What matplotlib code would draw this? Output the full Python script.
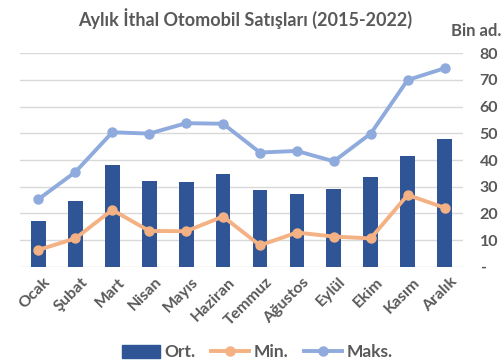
import matplotlib
matplotlib.use("Agg")
import matplotlib.pyplot as plt
import numpy as np
from matplotlib.lines import Line2D
from matplotlib.patches import Patch
from matplotlib.transforms import ScaledTranslation

months = ["Ocak", "Şubat", "Mart", "Nisan", "Mayıs", "Haziran",
          "Temmuz", "Ağustos", "Eylül", "Ekim", "Kasım", "Aralık"]
avg_vals = [17.0, 24.6, 38.1, 32.3, 31.6, 34.9, 28.9, 27.3, 29.0, 33.8, 41.5, 48.0]
min_vals = [6.3, 10.6, 21.3, 13.4, 13.3, 18.8, 8.0, 12.8, 11.3, 10.6, 26.9, 22.1]
max_vals = [25.3, 35.5, 50.4, 49.9, 53.8, 53.6, 42.8, 43.4, 39.5, 49.9, 70.0, 74.4]
y_ticks = [0, 10, 20, 30, 40, 50, 60, 70, 80]
y_labels = ["-", "10", "20", "30", "40", "50", "60", "70", "80"]

BAR = "#2F5597"
MINC = "#F4B183"
MAXC = "#8FAADC"
TXT = "#595959"
GRID = "#D9D9D9"

plt.rcParams["font.family"] = ["Lato", "DejaVu Sans"]
plt.rcParams["font.weight"] = "bold"

fig = plt.figure(figsize=(5.04, 3.62), dpi=100)
ax = fig.add_axes([0.0397, 0.2633, 0.879, 0.5894])

x = np.arange(len(months))
ax.bar(x, avg_vals, width=0.4, color=BAR, zorder=2)
ax.plot(x, min_vals, color=MINC, lw=2.8, marker="o", ms=6.5, zorder=3)
ax.plot(x, max_vals, color=MAXC, lw=2.8, marker="o", ms=6.5, zorder=3)

ax.set_xlim(-0.5, len(months) - 0.5)
ax.set_ylim(0, 80)
ax.yaxis.tick_right()
ax.set_yticks(y_ticks)
ax.set_yticklabels(y_labels)
ax.grid(axis="y", color=GRID, lw=1, zorder=0)
for s in ax.spines.values():
    s.set_visible(False)
ax.tick_params(axis="both", length=0, colors=TXT, labelsize=11.5)
ax.tick_params(axis="y", pad=12)
ax.tick_params(axis="x", pad=6)
ax.set_xticks(x)
ax.set_xticklabels(months, rotation=45, ha="right", rotation_mode="anchor")
# nudge rotated month labels slightly to the right
offset = ScaledTranslation(5 / 100, 0, fig.dpi_scale_trans)
for lbl in ax.get_xticklabels():
    lbl.set_transform(lbl.get_transform() + offset)
for lbl in ax.get_xticklabels() + ax.get_yticklabels():
    lbl.set_fontweight("bold")
    lbl.set_color(TXT)

fig.text(0.487, 0.95, "Aylık İthal Otomobil Satışları (2015-2022)",
         ha="center", va="center", fontsize=13, fontweight="bold", color=TXT)
fig.text(0.995, 0.915, "Bin ad.", ha="right", va="center",
         fontsize=12, fontweight="bold", color=TXT)

handles = [Patch(color=BAR),
           Line2D([], [], color=MINC, lw=2.8, marker="o", ms=6.5),
           Line2D([], [], color=MAXC, lw=2.8, marker="o", ms=6.5)]
fig.legend(handles, ["Ort.", "Min.", "Maks."], loc="center",
           bbox_to_anchor=(0.51, 0.027), ncol=3, frameon=False,
           handlelength=2.2, handleheight=0.8, handletextpad=0.25,
           columnspacing=0.9, labelcolor=TXT,
           prop={"weight": "bold", "size": 12.5})

fig.savefig("out.png", dpi=100)
